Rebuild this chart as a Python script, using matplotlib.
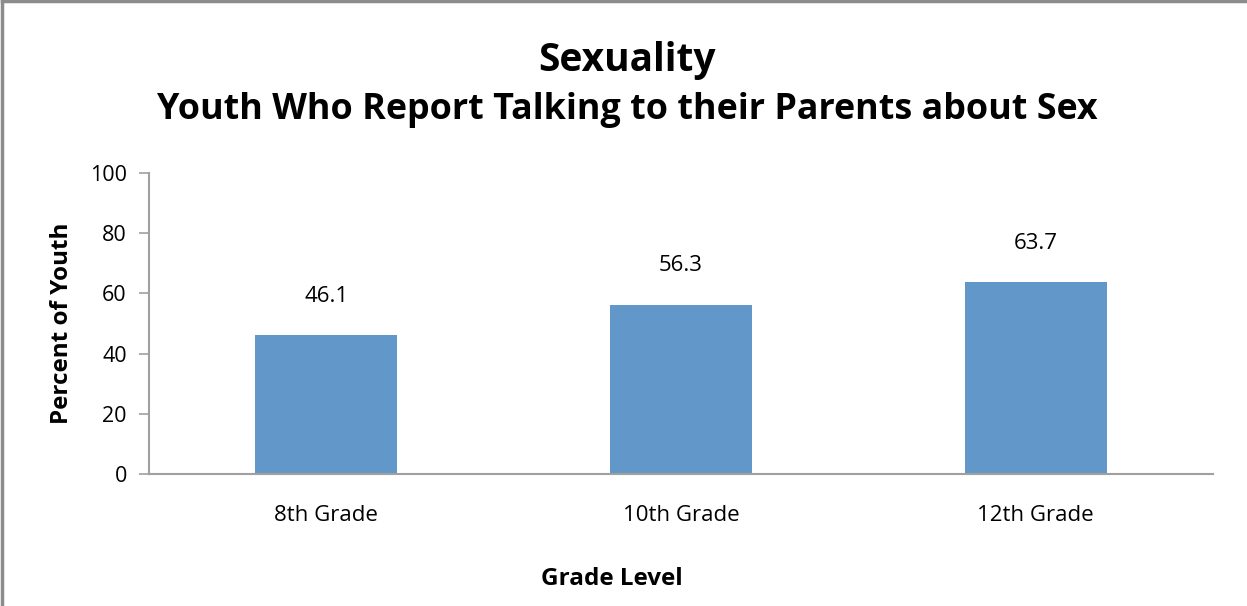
import matplotlib
matplotlib.use("Agg")
import matplotlib.pyplot as plt
from matplotlib.lines import Line2D

categories = ["8th Grade", "10th Grade", "12th Grade"]
values = [46.1, 56.3, 63.7]
yticks = [0, 20, 40, 60, 80, 100]

FONT = ["Open Sans", "DejaVu Sans"]
plt.rcParams['font.family'] = FONT

fig = plt.figure(figsize=(12.47, 6.06), dpi=100)
ax = fig.add_axes([149/1247, 132/606, (1213-149)/1247, (474-173)/606])

x = range(len(categories))
bars = ax.bar(x, values, width=0.4, color="#6197C9", zorder=2)
ax.set_xlim(-0.5, len(categories) - 0.5)
ax.set_ylim(0, 100)
ax.set_yticks(yticks)
ax.set_yticklabels([str(t) for t in yticks], fontsize=15.5)
ax.set_xticks(list(x))
ax.set_xticklabels(categories, fontsize=16)
ax.tick_params(axis='x', length=0, pad=22)
ax.tick_params(axis='y', length=7, width=1.2, color="#A0A0A0", pad=9)

for s in ["top", "right"]:
    ax.spines[s].set_visible(False)
for s in ["left", "bottom"]:
    ax.spines[s].set_color("#A0A0A0")
    ax.spines[s].set_linewidth(1.5)

for xi, v in zip(x, values):
    ax.annotate(f"{v}", (xi, v), xytext=(0, 28), textcoords="offset points",
                ha="center", va="center", fontsize=16)

ax.set_ylabel("Percent of Youth", fontsize=17.5, fontweight="bold", labelpad=11)
ax.set_xlabel("Grade Level", fontsize=17.5, fontweight="bold", labelpad=34)
ax.xaxis.set_label_coords((612 - 149) / 1064, -0.308)

fig.text(627/1247, 1 - 60/606, "Sexuality", ha="center", va="center",
         fontsize=28, fontweight="bold")
fig.text(627/1247, 1 - 110/606, "Youth Who Report Talking to their Parents about Sex",
         ha="center", va="center", fontsize=25.8, fontweight="bold")

border_kw = dict(transform=fig.transFigure, color="#8C8C8C", linewidth=2.5)
fig.add_artist(Line2D([0.0015, 0.0015], [0, 0.998], **border_kw))
fig.add_artist(Line2D([0.0015, 1.0], [0.998, 0.998], **border_kw))

fig.savefig("out.png", dpi=100)
